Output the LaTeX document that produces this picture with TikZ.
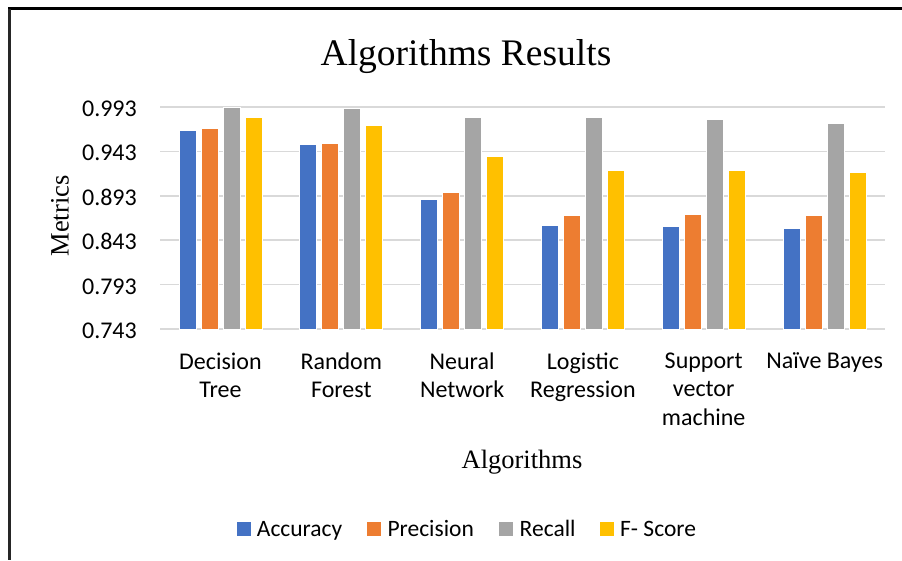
\documentclass[tikz,border=0pt]{standalone}
\usepackage{fontspec}
\setmainfont{Liberation Serif}
\newfontfamily\calibri{Carlito}

\definecolor{accblue}{HTML}{4472C4}
\definecolor{preorange}{HTML}{ED7D31}
\definecolor{recgray}{HTML}{A5A5A5}
\definecolor{fgold}{HTML}{FFC000}
\definecolor{gridgray}{HTML}{D9D9D9}

\tikzset{
  grid line/.style={draw=gridgray, line width=1.6pt},
  bar/.style={draw=white, line width=0.5pt},
  ticklabel/.style={font=\calibri\fontsize{24}{28.4}\selectfont, anchor=base east, inner sep=0pt},
  catlabel/.style={font=\calibri\fontsize{24}{28.4}\selectfont, align=center, anchor=north, inner sep=0pt},
  chart title/.style={font=\fontsize{37.5}{42}\selectfont, anchor=base, inner sep=0pt},
  axis title/.style={font=\fontsize{26.5}{30}\selectfont, inner sep=0pt},
  legend key/.style={minimum width=14pt, minimum height=14pt, inner sep=0pt, draw=none},
  legend text/.style={font=\calibri\fontsize{23.5}{28}\selectfont, anchor=base west, inner sep=0pt},
}

\begin{document}
\begin{tikzpicture}[x=1pt, y=-1pt]
\useasboundingbox (0,0) rectangle (902,560);
\fill[white] (0,0) rectangle (902,560);

% frame around the chart area
\draw[line width=2.6pt] (8,8.7) -- (902,8.7);
\draw[line width=2.3pt, black!85] (9.5,8.7) -- (9.5,560);

% title
\node[chart title] (title) at (466,65) {Algorithms Results};

% horizontal grid and value axis labels
\foreach \v [count=\k from 0] in {0.743,0.793,0.843,0.893,0.943,0.993} {
  \pgfmathsetmacro\gy{329-44.4*\k}
  \draw[grid line] (160,\gy) -- (885,\gy);
  \pgfmathsetmacro\ly{\gy+9.5}
  \node[ticklabel] (tick\k) at (137,\ly) {\v};
}

% clustered bars: accuracy, precision, recall, F-score per algorithm
\foreach \i/\a/\p/\r/\f in {
    1/0.967/0.969/0.993/0.981,
    2/0.951/0.952/0.992/0.972,
    3/0.889/0.897/0.981/0.938,
    4/0.860/0.871/0.981/0.922,
    5/0.859/0.872/0.979/0.922,
    6/0.856/0.871/0.975/0.920} {
  \pgfmathsetmacro\cx{160+(\i-0.5)*120.83}
  \foreach \val/\col/\off in {\a/accblue/-41.5, \p/preorange/-19.5, \r/recgray/2.5, \f/fgold/24.5} {
    \pgfmathsetmacro\xl{\cx+(\off)}
    \pgfmathsetmacro\xr{\xl+17}
    \pgfmathsetmacro\bartop{329-(\val-0.743)*888}
    \filldraw[bar, fill=\col] (\xl,329) rectangle (\xr,\bartop);
  }
}

% category labels
\node[catlabel] (cat1) at (220.4,352.5) {Decision\\Tree};
\node[catlabel] (cat2) at (341.3,352.5) {Random\\Forest};
\node[catlabel] (cat3) at (462.1,352.5) {Neural\\Network};
\node[catlabel] (cat4) at (582.9,352.5) {Logistic\\Regression};
\node[catlabel] (cat5) at (703.7,352.5) {Support\\vector\\machine};
\node[catlabel] (cat6) at (824.6,352.5) {Naïve Bayes};

% axis titles
\node[axis title, rotate=90] (ylab) at (60,216) {Metrics};
\node[axis title, anchor=base] (xlab) at (522,468) {Algorithms};

% legend
\node[legend key, fill=accblue] (key1) at (243.7,528.7) {};
\node[legend text] (lab1) at (256.7,536.5) {Accuracy};
\node[legend key, fill=preorange] (key2) at (373.5,528.7) {};
\node[legend text] (lab2) at (387.3,536.5) {Precision};
\node[legend key, fill=recgray] (key3) at (506,528.7) {};
\node[legend text] (lab3) at (519.5,536.5) {Recall};
\node[legend key, fill=fgold] (key4) at (606.7,528.7) {};
\node[legend text] (lab4) at (620,536.5) {F- Score};
\end{tikzpicture}
\end{document}
